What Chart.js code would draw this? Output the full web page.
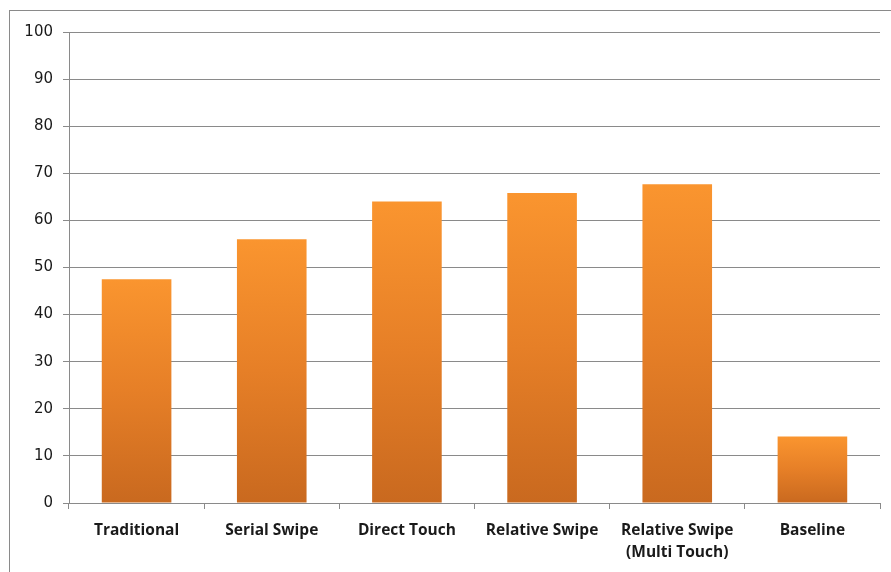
<!DOCTYPE html>
<html>
<head>
<meta charset="utf-8">
<script src="https://cdn.jsdelivr.net/npm/chart.js@4.4.1/dist/chart.umd.min.js"></script>
<style>
    html, body { margin: 0; padding: 0; background: #fff; overflow: hidden; }
    #wrap { position: relative; width: 891px; height: 572px; }
    #frame { position: absolute; left: 9px; top: 10px; width: 900px; height: 600px; border: 1px solid #8a8a8a; box-sizing: border-box; }
    canvas { position: absolute; left: 0; top: 0; }
</style>
</head>
<body>
<div id="wrap">
    <div id="frame"></div>
    <canvas id="grafico" width="891" height="572"></canvas>
</div>
<script>
const categorias = ['Traditional', 'Serial Swipe', 'Direct Touch', 'Relative Swipe', ['Relative Swipe', '(Multi Touch)'], 'Baseline'];
const valores = [47.5, 56, 64, 65.8, 67.7, 14.1];
const yMin = 0;
const yMax = 100;
const yPasso = 10;

// degradê por barra: claro em cima, escuro embaixo
function corBarra(c) {
    const escalaY = c.chart.scales.y;
    if (!escalaY || c.raw === undefined) return '#f28c2a';
    const topo = escalaY.getPixelForValue(c.raw);
    const base = escalaY.getPixelForValue(0);
    if (!isFinite(topo) || !isFinite(base) || topo === base) return '#f28c2a';
    const g = c.chart.ctx.createLinearGradient(0, topo, 0, base);
    g.addColorStop(0, '#fa952f');
    g.addColorStop(0.5, '#e67f27');
    g.addColorStop(1, '#c9691f');
    return g;
}

const ctx = document.getElementById('grafico').getContext('2d');
const chart = new Chart(ctx, {
    type: 'bar',
    data: {
        labels: categorias,
        datasets: [{
            data: valores,
            backgroundColor: corBarra,
            borderWidth: 0,
            categoryPercentage: 1,
            barPercentage: 0.515
        }]
    },
    options: {
        responsive: false,
        animation: false,
        layout: { padding: { left: 9, top: 32, right: 11, bottom: 0 } },
        plugins: {
            legend: { display: false },
            tooltip: { enabled: false }
        },
        scales: {
            x: {
                afterFit(scale) { scale.height = 69; },
                grid: {
                    drawOnChartArea: false,
                    drawTicks: true,
                    tickLength: 6,
                    color: '#8a8a8a'
                },
                border: { color: '#8a8a8a' },
                ticks: {
                    color: '#1a1a1a',
                    padding: 11,
                    maxRotation: 0,
                    font: { family: 'Open Sans', size: 15.5, weight: 'bold', lineHeight: 1.4 }
                }
            },
            y: {
                min: yMin,
                max: yMax,
                afterFit(scale) { scale.width = 60; },
                grid: {
                    color: '#8a8a8a',
                    tickLength: 6
                },
                border: { color: '#8a8a8a' },
                ticks: {
                    stepSize: yPasso,
                    color: '#1a1a1a',
                    padding: 10,
                    font: { family: 'DejaVu Sans', size: 15 }
                }
            }
        }
    }
});
</script>
</body>
</html>
